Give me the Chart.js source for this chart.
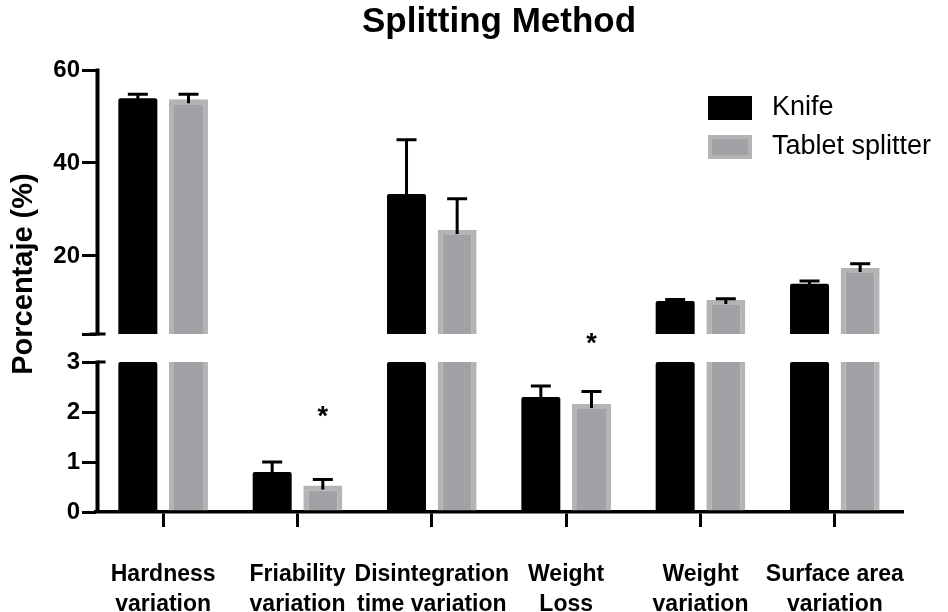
<!DOCTYPE html>
<html>
<head>
<meta charset="utf-8">
<script src="https://cdn.jsdelivr.net/npm/chart.js@4.4.1/dist/chart.umd.min.js"></script>
<style>
  html, body { margin: 0; padding: 0; background: #fff; }
  #wrap { width: 948px; height: 612px; }
</style>
</head>
<body>
<div id="wrap"><canvas id="chart"></canvas></div>
<script>
const categories = [
  ['Hardness', 'variation'],
  ['Friability', 'variation'],
  ['Disintegration', 'time variation'],
  ['Weight', 'Loss'],
  ['Weight', 'variation'],
  ['Surface area', 'variation']
];

// mean values (%) and upper error (SD)
const knifeMean = [53.9, 0.80, 33.3, 2.30, 10.3, 14.0];
const knifeErr = [0.9, 0.20, 11.7, 0.22, 0.3, 0.6];
const splitterMean = [53.7, 0.53, 25.6, 2.16, 10.5, 17.4];
const splitterErr = [1.1, 0.12, 6.7, 0.25, 0.3, 0.9];

// significance stars: category index and height on the lower axis
const starIndex = [1, 3];
const starValue = [2.05, 3.5];

const lowTicks = [0, 1, 2, 3];
const highTicks = [3.2, 20, 40, 60];

const BREAK_LOW = 3;     // lower segment shows 0..3
const LOW_MAX = 3.56;    // a bit of blank room for the gap
const HIGH_MIN = 3.2;    // upper segment starts here
const HIGH_MAX = 60;

const FONT = "'Liberation Sans', Arial, Helvetica, sans-serif";
const KNIFE = '#000000';
const SPLIT_FILL = '#a2a2a6';
const SPLIT_EDGE = '#b4b4b4';

const lowPart = arr => arr.map(v => Math.min(v, BREAK_LOW));
const highPart = arr => arr.map(v => v > BREAK_LOW ? v : null);

const splitterBorder = (means) => (ctx) => {
  const v = means[ctx.dataIndex];
  const top = ctx.dataset.yAxisID === 'yLow' && v > BREAK_LOW ? 0 : 5;
  return { left: 5, right: 5, top: top, bottom: 0 };
};

const errorBars = {
  id: 'errorBars',
  afterDatasetsDraw(chart) {
    const ctx = chart.ctx;
    ctx.save();
    ctx.strokeStyle = '#000';
    ctx.lineWidth = 3;
    chart.data.datasets.forEach((ds, i) => {
      const meta = chart.getDatasetMeta(i);
      const scale = chart.scales[ds.yAxisID];
      meta.data.forEach((bar, j) => {
        const v = ds.means[j];
        if (ds.yAxisID === 'yLow' && v > BREAK_LOW) return;
        if (ds.yAxisID === 'yHigh' && v <= BREAK_LOW) return;
        const top = scale.getPixelForValue(v + ds.errs[j]);
        ctx.beginPath();
        ctx.moveTo(bar.x, bar.y + 4);
        ctx.lineTo(bar.x, top);
        ctx.moveTo(bar.x - 10, top);
        ctx.lineTo(bar.x + 10, top);
        ctx.stroke();
      });
    });
    ctx.restore();
  }
};

const brokenAxis = {
  id: 'brokenAxis',
  afterDraw(chart) {
    const ctx = chart.ctx;
    const lo = chart.scales.yLow, hi = chart.scales.yHigh;
    const x = chart.chartArea.left + 1.5;
    ctx.save();
    ctx.strokeStyle = '#000';
    ctx.lineWidth = 4;
    ctx.beginPath();
    ctx.moveTo(x, lo.getPixelForValue(0));
    ctx.lineTo(x, lo.getPixelForValue(BREAK_LOW) - 1.5);
    ctx.moveTo(x, hi.getPixelForValue(HIGH_MIN) + 1.5);
    ctx.lineTo(x, hi.getPixelForValue(HIGH_MAX) - 1.5);
    ctx.stroke();
    // break marks cross the axis
    ctx.lineWidth = 3;
    ctx.beginPath();
    ctx.moveTo(x - 8, hi.getPixelForValue(HIGH_MIN));
    ctx.lineTo(x + 8, hi.getPixelForValue(HIGH_MIN));
    ctx.moveTo(x, lo.getPixelForValue(BREAK_LOW));
    ctx.lineTo(x + 8, lo.getPixelForValue(BREAK_LOW));
    ctx.stroke();
    ctx.restore();
  }
};

const extras = {
  id: 'extras',
  afterDraw(chart) {
    const ctx = chart.ctx;
    const area = chart.chartArea;
    ctx.save();

    // stars
    const lo = chart.scales.yLow;
    const meta = chart.getDatasetMeta(1);
    ctx.fillStyle = '#000';
    ctx.font = 'bold 27px ' + FONT;
    ctx.textAlign = 'center';
    ctx.textBaseline = 'alphabetic';
    starIndex.forEach((idx, k) => {
      const bar = meta.data[idx];
      ctx.fillText('*', bar.x, lo.getPixelForValue(starValue[k]) + 15);
    });

    // y title
    ctx.save();
    ctx.translate(24, 274);
    ctx.rotate(-Math.PI / 2);
    ctx.font = 'bold 29px ' + FONT;
    ctx.textBaseline = 'middle';
    ctx.fillText('Porcentaje (%)', 0, 0);
    ctx.restore();

    // legend
    const lx = area.right - 194;
    const items = [
      { label: 'Knife', fill: KNIFE, edge: KNIFE },
      { label: 'Tablet splitter', fill: SPLIT_FILL, edge: SPLIT_EDGE }
    ];
    ctx.font = '27px ' + FONT;
    ctx.textAlign = 'left';
    ctx.textBaseline = 'middle';
    items.forEach((it, k) => {
      const ty = area.top + 26 + k * 39;
      ctx.fillStyle = it.edge;
      ctx.fillRect(lx, ty, 44, 24);
      ctx.fillStyle = it.fill;
      ctx.fillRect(lx + 4, ty + 4, 36, 16);
      ctx.fillStyle = '#000';
      ctx.fillText(it.label, lx + 64, ty + 12);
    });
    ctx.restore();
  }
};

const yTickFont = { family: FONT, size: 24, weight: 'bold' };
const yGrid = { drawOnChartArea: false, color: '#000', lineWidth: 3, tickLength: 14 };

new Chart(document.getElementById('chart'), {
  type: 'bar',
  data: {
    labels: categories,
    datasets: [
      { label: 'Knife', stack: 'knife', yAxisID: 'yLow', data: lowPart(knifeMean),
        means: knifeMean, errs: knifeErr, backgroundColor: KNIFE, borderRadius: 2, borderSkipped: 'start' },
      { label: 'Tablet splitter', stack: 'splitter', yAxisID: 'yLow', data: lowPart(splitterMean),
        means: splitterMean, errs: splitterErr, backgroundColor: SPLIT_FILL, borderColor: SPLIT_EDGE,
        borderWidth: splitterBorder(splitterMean), borderSkipped: false },
      { label: 'Knife', stack: 'knife', yAxisID: 'yHigh', data: highPart(knifeMean),
        means: knifeMean, errs: knifeErr, backgroundColor: KNIFE, borderRadius: 2, borderSkipped: 'start' },
      { label: 'Tablet splitter', stack: 'splitter', yAxisID: 'yHigh', data: highPart(splitterMean),
        means: splitterMean, errs: splitterErr, backgroundColor: SPLIT_FILL, borderColor: SPLIT_EDGE,
        borderWidth: splitterBorder(splitterMean), borderSkipped: false }
    ]
  },
  options: {
    responsive: true,
    maintainAspectRatio: false,
    animation: false,
    categoryPercentage: 0.754,
    barPercentage: 0.77,
    layout: { padding: { left: 0, right: 46, top: 0, bottom: 0 } },
    plugins: {
      legend: { display: false },
      tooltip: { enabled: false },
      title: {
        display: true,
        text: 'Splitting Method',
        fullSize: false,
        color: '#000',
        font: { family: FONT, size: 35, weight: 'bold' },
        padding: { top: 1, bottom: 27 }
      }
    },
    scales: {
      x: {
        type: 'category',
        offset: true,
        grid: { offset: false, drawOnChartArea: false, color: '#000', lineWidth: 3, tickLength: 15 },
        border: { display: true, color: '#000', width: 3.5 },
        ticks: {
          color: '#000',
          font: { family: FONT, size: 23, weight: 'bold', lineHeight: 1.3 },
          padding: 33,
          maxRotation: 0,
          autoSkip: false
        },
        afterFit(scale) { scale.height = 100; }
      },
      // the lower segment is listed first so that the stack puts it at the bottom
      yLow: {
        type: 'linear',
        position: 'left',
        stack: 'pct',
        stackWeight: 178,
        stacked: false,
        min: 0,
        max: LOW_MAX,
        grid: yGrid,
        border: { display: false },
        ticks: { color: '#000', font: yTickFont, padding: 2 },
        afterBuildTicks(scale) { scale.ticks = lowTicks.map(v => ({ value: v })); },
        afterFit(scale) { scale.width = 96; }
      },
      yHigh: {
        type: 'linear',
        position: 'left',
        stack: 'pct',
        stackWeight: 264,
        stacked: false,
        min: HIGH_MIN,
        max: HIGH_MAX,
        grid: yGrid,
        border: { display: false },
        ticks: {
          color: '#000',
          font: yTickFont,
          padding: 2,
          callback: v => (v === HIGH_MIN ? '' : v)
        },
        afterBuildTicks(scale) { scale.ticks = highTicks.map(v => ({ value: v })); },
        afterFit(scale) { scale.width = 96; }
      }
    }
  },
  plugins: [errorBars, brokenAxis, extras]
});
</script>
</body>
</html>
